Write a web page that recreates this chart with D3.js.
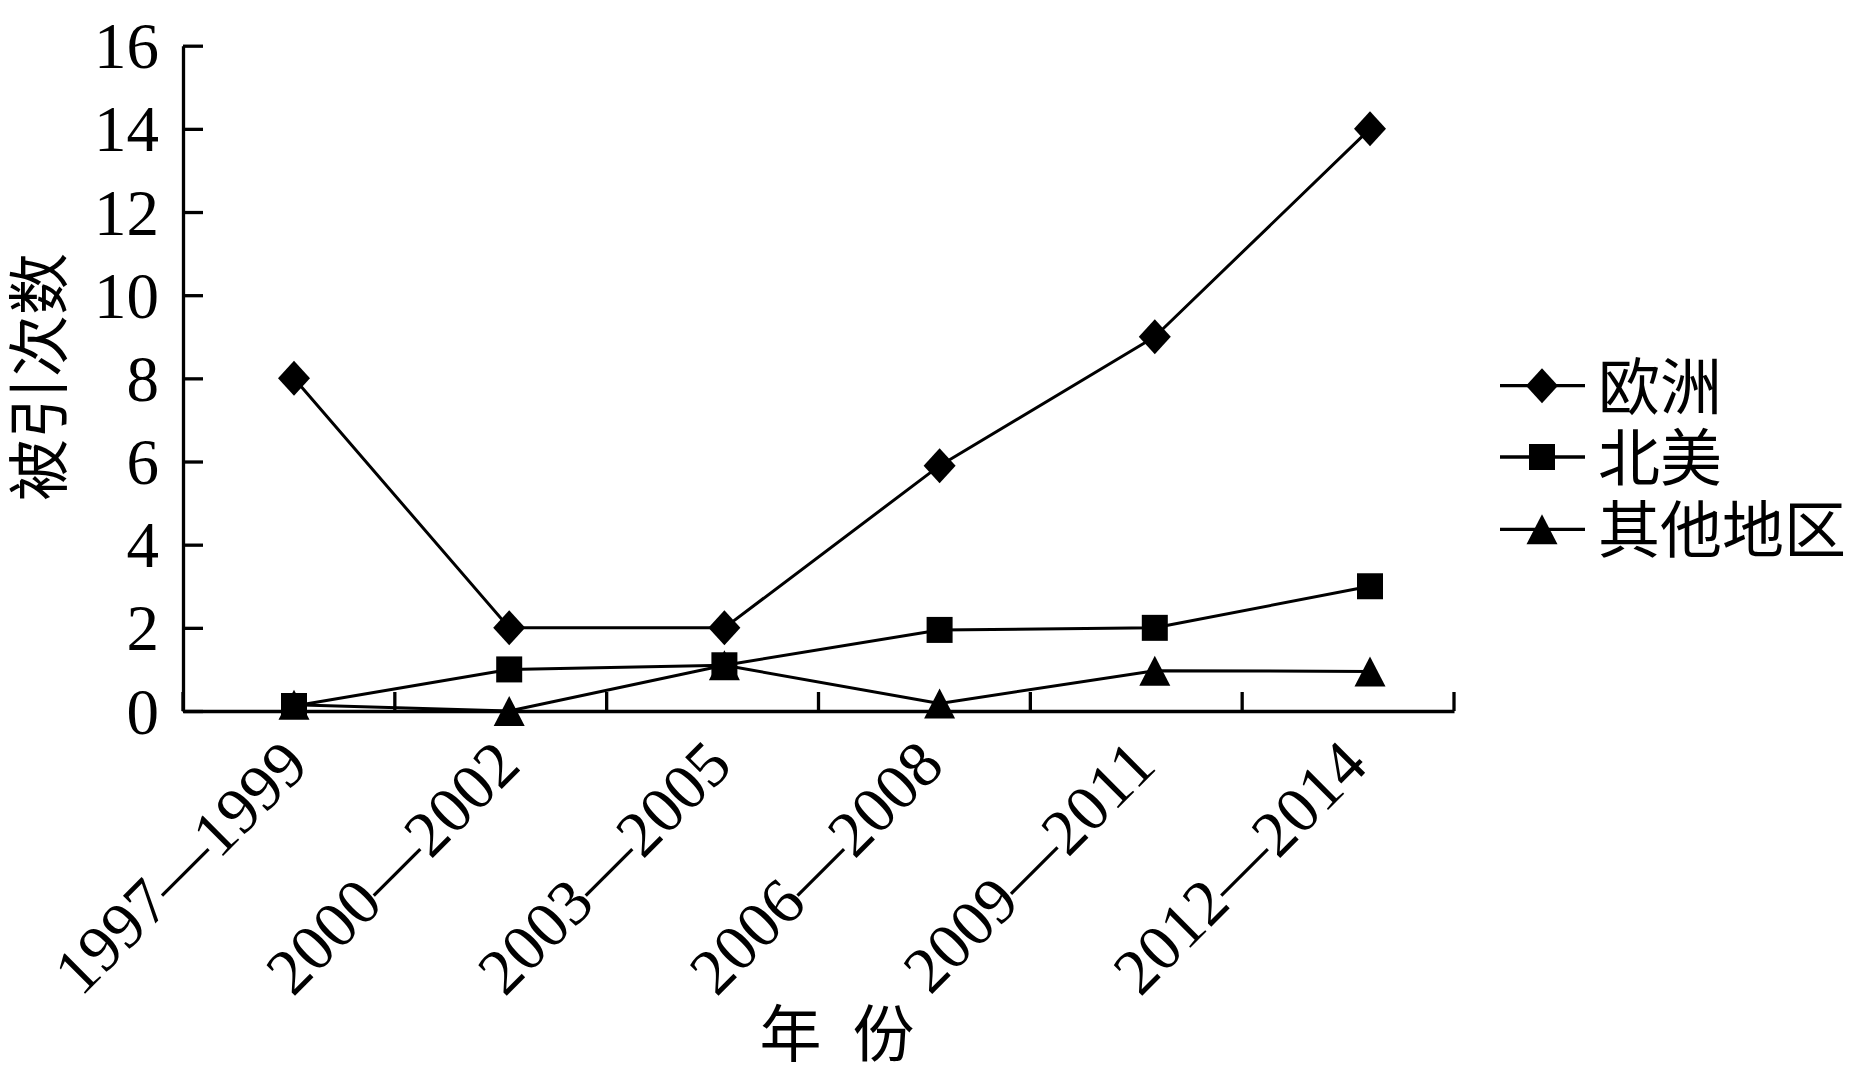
<!DOCTYPE html>
<html><head><meta charset="utf-8">
<script src="https://cdn.jsdelivr.net/npm/d3@7"></script>
<style>html,body{margin:0;padding:0;background:#fff}</style>
</head><body>
<svg id="chart" width="1863" height="1066"></svg>
<script>
// ---- data ----
const categories = ["1997—1999", "2000—2002", "2003—2005", "2006—2008", "2009—2011", "2012—2014"];
const europe = [8, 2, 2, 5.9, 9, 14];
const northAmerica = [0.12, 1, 1.1, 1.95, 2, 3];
const otherRegions = [0.15, 0, 1.1, 0.18, 0.97, 0.95];
const yTicks = [0, 2, 4, 6, 8, 10, 12, 14, 16];
const seriesNames = ["欧洲", "北美", "其他地区"];
const xTitle = "年\u2002份";
const yTitle = "被引次数";

// ---- layout ----
const W = 1863, H = 1066;
const plotLeft = 183, plotRight = 1454, plotBottom = 711, plotTop = 45.7;
const serif = "'Liberation Serif','Times New Roman',serif";
const cjk = "'Noto Sans CJK SC','Noto Sans CJK JP',sans-serif";

const svg = d3.select("#chart");
svg.append("rect").attr("width", W).attr("height", H).attr("fill", "#fff");

const xBand = d3.scaleBand().domain(categories).range([plotLeft, plotRight]);
const xPoint = d3.scalePoint().domain(categories).range([294, 1370]);
const y = d3.scaleLinear().domain([0, 16]).range([plotBottom, plotTop]);

// ---- marker shapes ----
const diamond = { draw(c) { c.moveTo(0, -17.5); c.lineTo(16, 0); c.lineTo(0, 17.5); c.lineTo(-16, 0); c.closePath(); } };
const square = { draw(c) { c.rect(-13, -13, 26, 26); } };
const triangle = { draw(c) { c.moveTo(0, -15); c.lineTo(15.5, 15); c.lineTo(-15.5, 15); c.closePath(); } };

const series = [
  { name: seriesNames[0], values: europe, shape: diamond },
  { name: seriesNames[1], values: northAmerica, shape: square },
  { name: seriesNames[2], values: otherRegions, shape: triangle }
];

// ---- y axis ----
const gy = svg.append("g").attr("transform", `translate(${plotLeft},0)`)
  .call(d3.axisLeft(y).tickValues(yTicks).tickFormat(d3.format("d"))
    .tickSizeInner(-20).tickSizeOuter(0).tickPadding(24));
gy.select(".domain").attr("stroke", "#000").attr("stroke-width", 3.3);
gy.selectAll(".tick line").attr("stroke", "#000").attr("stroke-width", 3.3);
gy.selectAll(".tick text").style("font-family", serif).attr("font-size", 65)
  .attr("fill", "#000").attr("dy", "0.34em");

// ---- x axis ----
const gx = svg.append("g").attr("transform", `translate(0,${plotBottom})`)
  .call(d3.axisBottom(xBand).tickSize(0).tickPadding(0));
gx.select(".domain").attr("stroke", "#000").attr("stroke-width", 3.3);
gx.selectAll(".tick text").style("font-family", serif).attr("font-size", 65)
  .attr("fill", "#000").attr("x", 0).attr("y", 0).attr("dy", null)
  .attr("text-anchor", "end").attr("transform", "translate(22,57) rotate(-45)");

// x-axis tick marks at category boundaries
const bounds = categories.map(c => xBand(c)).concat([xBand(categories[categories.length - 1]) + xBand.bandwidth()]);
svg.append("g").selectAll("line").data(bounds).join("line")
  .attr("x1", d => d).attr("x2", d => d)
  .attr("y1", plotBottom).attr("y2", plotBottom - 19)
  .attr("stroke", "#000").attr("stroke-width", 3.3);

// ---- lines ----
const line = d3.line().x((d, i) => xPoint(categories[i])).y(d => y(d));
svg.append("g").selectAll("path").data(series).join("path")
  .attr("d", s => line(s.values)).attr("fill", "none")
  .attr("stroke", "#000").attr("stroke-width", 3).attr("stroke-linejoin", "round");

// ---- markers (other regions under north america under europe) ----
const drawOrder = [series[2], series[1], series[0]];
drawOrder.forEach(s => {
  svg.append("g").selectAll("path").data(s.values).join("path")
    .attr("d", d3.symbol().type(s.shape))
    .attr("transform", (d, i) => `translate(${xPoint(categories[i])},${y(d)})`)
    .attr("fill", "#000");
});

// ---- legend ----
const legendY = [385.7, 457, 529.3];
const lg = svg.append("g");
series.forEach((s, i) => {
  const g = lg.append("g").attr("transform", `translate(0,${legendY[i]})`);
  g.append("line").attr("x1", 1500).attr("x2", 1585).attr("y1", 0).attr("y2", 0)
    .attr("stroke", "#000").attr("stroke-width", 3.3);
  g.append("path").attr("d", d3.symbol().type(s.shape)())
    .attr("transform", "translate(1542,0)").attr("fill", "#000");
  g.append("text").attr("x", 1598).attr("y", -3).attr("dominant-baseline", "central")
    .style("font-family", cjk).attr("font-size", 62).attr("fill", "#000").text(s.name);
});

// ---- axis titles ----
svg.append("text").attr("x", 837).attr("y", 1030).attr("text-anchor", "middle")
  .attr("dominant-baseline", "central").style("font-family", cjk).attr("font-size", 62)
  .attr("fill", "#000").attr("xml:space", "preserve").text(xTitle);
svg.append("text").attr("transform", "translate(35,377) rotate(-90)")
  .attr("text-anchor", "middle").attr("dominant-baseline", "central")
  .style("font-family", cjk).attr("font-size", 62).attr("fill", "#000").text(yTitle);
</script>
</body></html>
